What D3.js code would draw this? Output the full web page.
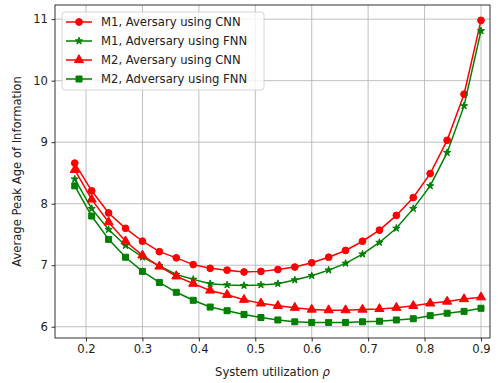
<!DOCTYPE html>
<html><head><meta charset="utf-8">
<script src="https://cdn.jsdelivr.net/npm/d3@7"></script>
<style>body{margin:0;background:#fff}svg{display:block}text{font-family:"DejaVu Sans",sans-serif}</style>
</head><body><svg id="c" width="500" height="383"></svg>
<script>
const rho = [0.18,0.21,0.24,0.27,0.30,0.33,0.36,0.39,0.42,0.45,0.48,0.51,0.54,0.57,0.60,0.63,0.66,0.69,0.72,0.75,0.78,0.81,0.84,0.87,0.90];
const m1Cnn = [8.66,8.21,7.85,7.60,7.39,7.22,7.12,7.01,6.95,6.92,6.89,6.90,6.93,6.97,7.04,7.13,7.24,7.39,7.57,7.81,8.10,8.49,9.03,9.78,10.98];
const m1Fnn = [8.40,7.92,7.58,7.32,7.13,6.99,6.85,6.77,6.70,6.68,6.67,6.68,6.70,6.76,6.83,6.92,7.03,7.18,7.37,7.60,7.92,8.29,8.83,9.59,10.81];
const m2Cnn = [8.55,8.07,7.70,7.39,7.16,6.98,6.82,6.70,6.59,6.52,6.44,6.38,6.34,6.31,6.28,6.27,6.27,6.28,6.29,6.31,6.34,6.38,6.41,6.45,6.48];
const m2Fnn = [8.29,7.80,7.42,7.13,6.90,6.72,6.56,6.43,6.32,6.26,6.20,6.15,6.11,6.08,6.07,6.07,6.07,6.08,6.09,6.11,6.13,6.18,6.22,6.25,6.30];
const xTicks = [0.2,0.3,0.4,0.5,0.6,0.7,0.8,0.9];
const yTicks = [6,7,8,9,10,11];
const seriesNames = ["M1, Aversary using CNN","M1, Adversary using FNN","M2, Aversary using CNN","M2, Adversary using FNN"];

const series = [
  {name: seriesNames[0], values: m1Cnn, color: "#ff0000", marker: "circle"},
  {name: seriesNames[1], values: m1Fnn, color: "#008000", marker: "star"},
  {name: seriesNames[2], values: m2Cnn, color: "#ff0000", marker: "triangle"},
  {name: seriesNames[3], values: m2Fnn, color: "#008000", marker: "square"}
];

const FS = 11.6;
const L = 55, R = 490, T = 5, B = 338;
const x = d3.scaleLinear().domain([0.145, 0.916]).range([L, R]);
const y = d3.scaleLinear().domain([5.817, 11.23]).range([B, T]);
const svg = d3.select("#c");

// grid
const g = svg.append("g");
g.selectAll(".gx").data(xTicks).enter().append("line")
  .attr("x1", d => x(d)).attr("x2", d => x(d)).attr("y1", T).attr("y2", B)
  .attr("stroke", "#b0b0b0").attr("stroke-width", 0.8);
g.selectAll(".gy").data(yTicks).enter().append("line")
  .attr("y1", d => y(d)).attr("y2", d => y(d)).attr("x1", L).attr("x2", R)
  .attr("stroke", "#b0b0b0").attr("stroke-width", 0.8);

// axes
const xAxis = svg.append("g").attr("transform", `translate(0,${B})`)
  .call(d3.axisBottom(x).tickValues(xTicks).tickFormat(d3.format(".1f")).tickSize(3.5).tickPadding(3.5));
const yAxis = svg.append("g").attr("transform", `translate(${L},0)`)
  .call(d3.axisLeft(y).tickValues(yTicks).tickFormat(d3.format("d")).tickSize(3.5).tickPadding(3.5));
[xAxis, yAxis].forEach(a => {
  a.select(".domain").remove();
  a.selectAll("line").attr("stroke", "#000").attr("stroke-width", 0.8);
  a.selectAll("text").attr("font-size", FS).attr("fill", "#222").attr("font-family", "DejaVu Sans");
});
// spines
svg.append("rect").attr("x", L).attr("y", T).attr("width", R - L).attr("height", B - T)
  .attr("fill", "none").attr("stroke", "#000").attr("stroke-width", 0.8);

function markerPath(type) {
  const s = {circle: d3.symbolCircle, star: d3.symbolStar, triangle: d3.symbolTriangle, square: d3.symbolSquare}[type];
  const size = {circle: 36, star: 16, triangle: 36, square: 36}[type];
  return d3.symbol().type(s).size(size)();
}

const line = d3.line().x((d, i) => x(rho[i])).y(d => y(d));
series.forEach(s => {
  svg.append("path").attr("d", line(s.values)).attr("fill", "none")
    .attr("stroke", s.color).attr("stroke-width", 1.5);
  svg.append("g").selectAll("path").data(s.values).enter().append("path")
    .attr("d", markerPath(s.marker))
    .attr("transform", (d, i) => `translate(${x(rho[i])},${y(d)})`)
    .attr("fill", s.color).attr("stroke", s.color).attr("stroke-width", 1);
});

// legend
const lg = svg.append("g");
lg.append("rect").attr("x", 62).attr("y", 12).attr("width", 202).attr("height", 78).attr("rx", 3)
  .attr("fill", "#fff").attr("fill-opacity", 0.8).attr("stroke", "#cccccc").attr("stroke-width", 0.8);
series.forEach((s, i) => {
  const yy = 22 + i * 19;
  lg.append("line").attr("x1", 66).attr("x2", 92).attr("y1", yy).attr("y2", yy)
    .attr("stroke", s.color).attr("stroke-width", 1.5);
  lg.append("path").attr("d", markerPath(s.marker)).attr("transform", `translate(79,${yy})`)
    .attr("fill", s.color).attr("stroke", s.color);
  lg.append("text").attr("x", 101).attr("y", yy).attr("dy", "0.35em")
    .attr("font-size", FS).attr("fill", "#222").text(s.name);
});

// labels
svg.append("text").attr("x", (L + R) / 2).attr("y", 376).attr("text-anchor", "middle")
  .attr("font-size", FS).attr("fill", "#222")
  .html('System utilization <tspan font-style="italic">ρ</tspan>');
svg.append("text").attr("transform", `translate(21,${(T + B) / 2}) rotate(-90)`)
  .attr("text-anchor", "middle").attr("font-size", FS).attr("fill", "#222")
  .text("Average Peak Age of Information");
</script></body></html>
